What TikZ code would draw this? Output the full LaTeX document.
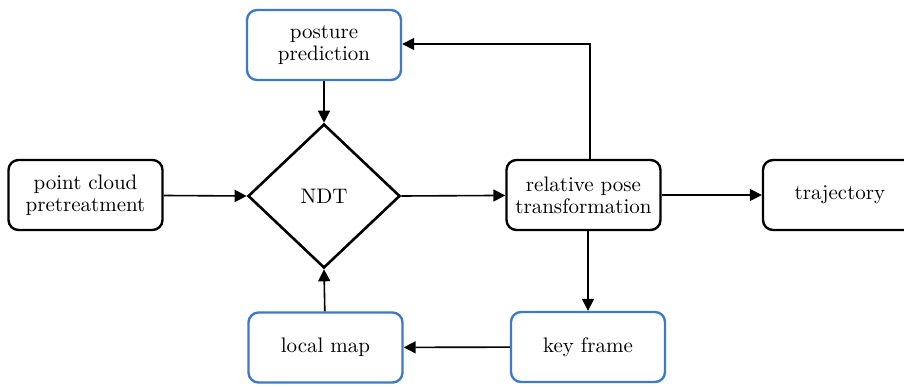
\documentclass[tikz,border=0pt]{standalone}
\usetikzlibrary{shapes.geometric,arrows.meta}
\definecolor{boxblue}{RGB}{62,122,200}
\tikzset{
	blk/.style={draw=black, line width=1.2pt, rounded corners=5pt, minimum width=77pt, minimum height=35pt, align=center, inner sep=2pt},
	bluebox/.style={blk, draw=boxblue},
	decide/.style={diamond, draw=black, line width=1.3pt, minimum width=76pt, minimum height=72pt, inner sep=0pt},
	flow/.style={line width=0.8pt, -{Triangle[length=6pt,width=6pt]}}
}
\begin{document}
\begin{tikzpicture}[x=0.5pt, y=-0.5pt, font=\fontsize{10.5}{11}\selectfont]
	\useasboundingbox (0,0) rectangle (904,386);
	% nodes
	\node[bluebox] (posture) at (324,45) {posture\\prediction};
	\node[blk] (pretreat) at (85.5,195) {point cloud\\pretreatment};
	\node[decide] (ndt) at (324,196) {NDT};
	\node[blk] (relpose) at (583.5,195) {relative pose\\transformation};
	\node[blk] (traj) at (840,195) {trajectory};
	\node[bluebox] (keyframe) at (588,347) {key frame};
	\node[bluebox] (localmap) at (325.5,347.5) {local map};
	\coordinate (corner) at (590,44);
	% connectors
	\draw[flow] (pretreat) -- (ndt.west);
	\draw[flow] (ndt.east) -- (relpose);
	\draw[flow] (relpose) -- (traj);
	\draw[flow] (relpose.north -| corner) -- (corner) -- (posture.east |- corner);
	\draw[flow] (posture) -- (ndt.north);
	\draw[flow] (relpose.south -| keyframe) -- (keyframe);
	\draw[flow] (keyframe) -- (localmap);
	\draw[flow] (localmap) -- (ndt.south);
\end{tikzpicture}
\end{document}
